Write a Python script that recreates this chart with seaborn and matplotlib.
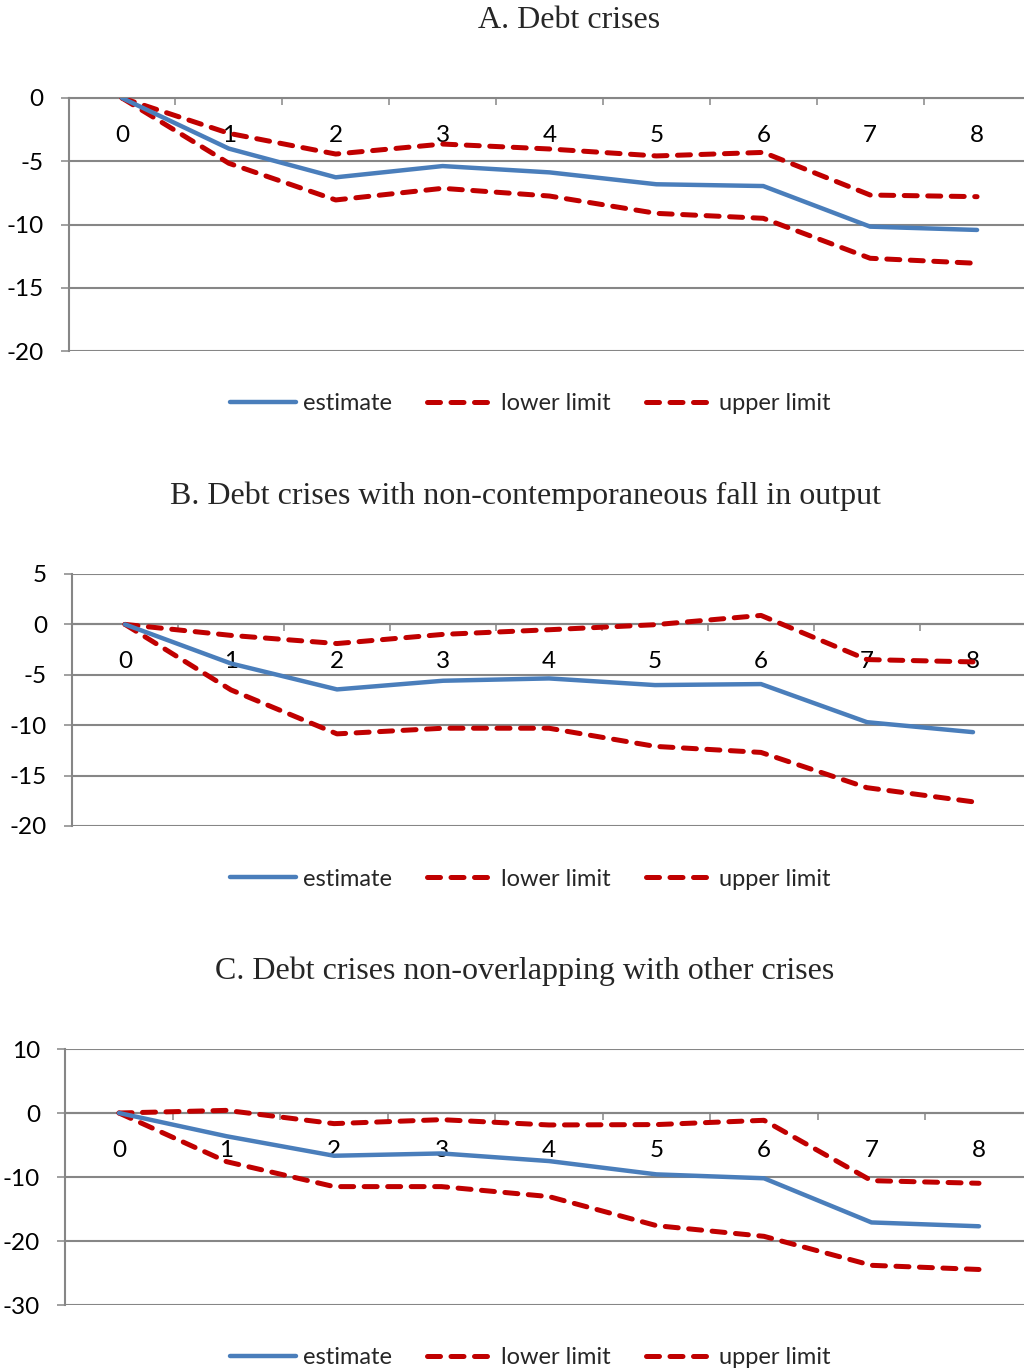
import matplotlib
matplotlib.use("Agg")
import matplotlib.pyplot as plt
import numpy as np
import pandas as pd
import seaborn as sns

# ---------------- data ----------------
periods = [0, 1, 2, 3, 4, 5, 6, 7, 8]

a_estimate = [0, -4.0, -6.27, -5.38, -5.88, -6.82, -6.96, -10.17, -10.43]
a_lower = [0, -5.16, -8.06, -7.14, -7.75, -9.12, -9.51, -12.67, -13.07]
a_upper = [0, -2.79, -4.43, -3.64, -4.03, -4.58, -4.30, -7.67, -7.80]

b_estimate = [0, -3.88, -6.45, -5.59, -5.36, -6.02, -5.92, -9.70, -10.69]
b_lower = [0, -6.5, -10.86, -10.3, -10.3, -12.1, -12.7, -16.2, -17.6]
b_upper = [0, -1.09, -1.90, -0.99, -0.53, -0.03, 0.89, -3.49, -3.72]

c_estimate = [0, -3.63, -6.68, -6.32, -7.51, -9.59, -10.2, -17.1, -17.7]
c_lower = [0, -7.6, -11.5, -11.5, -13.06, -17.6, -19.27, -23.8, -24.45]
c_upper = [0, 0.41, -1.66, -1.04, -1.87, -1.81, -1.14, -10.57, -10.98]

titles = ["A. Debt crises",
          "B. Debt crises with non-contemporaneous fall in output",
          "C. Debt crises non-overlapping with other crises"]
series_names = ["estimate", "lower limit", "upper limit"]
y_ticks = [[0, -5, -10, -15, -20],
           [5, 0, -5, -10, -15, -20],
           [10, 0, -10, -20, -30]]
y_limits = [(-20, 0), (-20, 5), (-30, 10)]

# ---------------- style ----------------
sns.set_theme(style="white")
plt.rcParams["font.family"] = ["Lato", "DejaVu Sans"]

W, H = 1024, 1372
fig = plt.figure(figsize=(W / 100, H / 100), dpi=100)

GRAY = "#868686"
BLUE = "#4A7EBB"
RED = "#C00000"


def px_axes(x0, x1, ytop, ybot):
    return [x0 / W, 1 - ybot / H, (x1 - x0) / W, (ybot - ytop) / H]


layout = [
    dict(rect=px_axes(68.5, 1030.5, 98, 351), title=(569, 21), legend_y=404),
    dict(rect=px_axes(72, 1026, 574, 826), title=(525, 496), legend_y=879),
    dict(rect=px_axes(65.25, 1032.75, 1049, 1305), title=(525, 971), legend_y=1358),
]

panels = [
    (a_estimate, a_lower, a_upper),
    (b_estimate, b_lower, b_upper),
    (c_estimate, c_lower, c_upper),
]

for i, (est, low, up) in enumerate(panels):
    lay = layout[i]
    ax = fig.add_axes(lay["rect"])
    df = pd.DataFrame({"period": periods, "estimate": est,
                       "lower limit": low, "upper limit": up})

    sns.lineplot(data=df, x="period", y="estimate", ax=ax, color=BLUE,
                 lw=3.2, legend=False, zorder=5)
    sns.lineplot(data=df, x="period", y="lower limit", ax=ax, color=RED,
                 lw=3.6, legend=False, zorder=4)
    sns.lineplot(data=df, x="period", y="upper limit", ax=ax, color=RED,
                 lw=3.6, legend=False, zorder=4)
    lines = ax.get_lines()
    lines[0].set_solid_capstyle("round")
    lines[0].set_solid_joinstyle("round")
    for ln in lines[1:]:
        ln.set_dashes((2.6, 2.1))
        ln.set_dash_capstyle("round")
        ln.set_dash_joinstyle("round")
    for ln, name in zip(lines, series_names):
        ln.set_label(name)

    ax.set_xlim(-0.5, 8.5)
    ax.set_ylim(*y_limits[i])
    ax.set_xlabel("")
    ax.set_ylabel("")

    # y axis
    ax.set_yticks(y_ticks[i])
    ax.set_yticklabels([str(v) for v in y_ticks[i]])
    ax.yaxis.grid(True, color=GRAY, lw=1.5)
    ax.xaxis.grid(False)
    ax.tick_params(axis="y", which="major", direction="out", length=6,
                   width=1.1, color=GRAY, pad=12, labelsize=17.5,
                   labelcolor="black", left=True)

    # x axis crossing at zero
    ax.spines["bottom"].set_position(("data", 0))
    ax.spines["bottom"].set_color(GRAY)
    ax.spines["bottom"].set_linewidth(1.5)
    ax.spines["left"].set_color(GRAY)
    ax.spines["left"].set_linewidth(1.5)
    ax.spines["top"].set_visible(False)
    ax.spines["right"].set_visible(False)

    ax.set_xticks(periods)
    ax.set_xticklabels([str(p) for p in periods])
    ax.set_xticks([p + 0.5 for p in periods[:-1]], minor=True)
    ax.tick_params(axis="x", which="major", length=0, pad=19.5,
                   labelsize=17.5, labelcolor="black", bottom=True)
    ax.tick_params(axis="x", which="minor", direction="out", length=5,
                   width=1.1, color=GRAY, bottom=True)

    # title
    fig.text(lay["title"][0] / W, 1 - lay["title"][1] / H, titles[i],
             ha="center", va="center", fontsize=23,
             family=["Liberation Serif", "DejaVu Serif"])

    # legend
    ax.legend(handles=lines, labels=series_names, ncol=3,
              loc="center", bbox_to_anchor=(530 / W, 1 - lay["legend_y"] / H),
              bbox_transform=fig.transFigure, frameon=False,
              fontsize=17, handlelength=2.8, handletextpad=0.3,
              columnspacing=1.5)

fig.savefig("out.png", dpi=100)
